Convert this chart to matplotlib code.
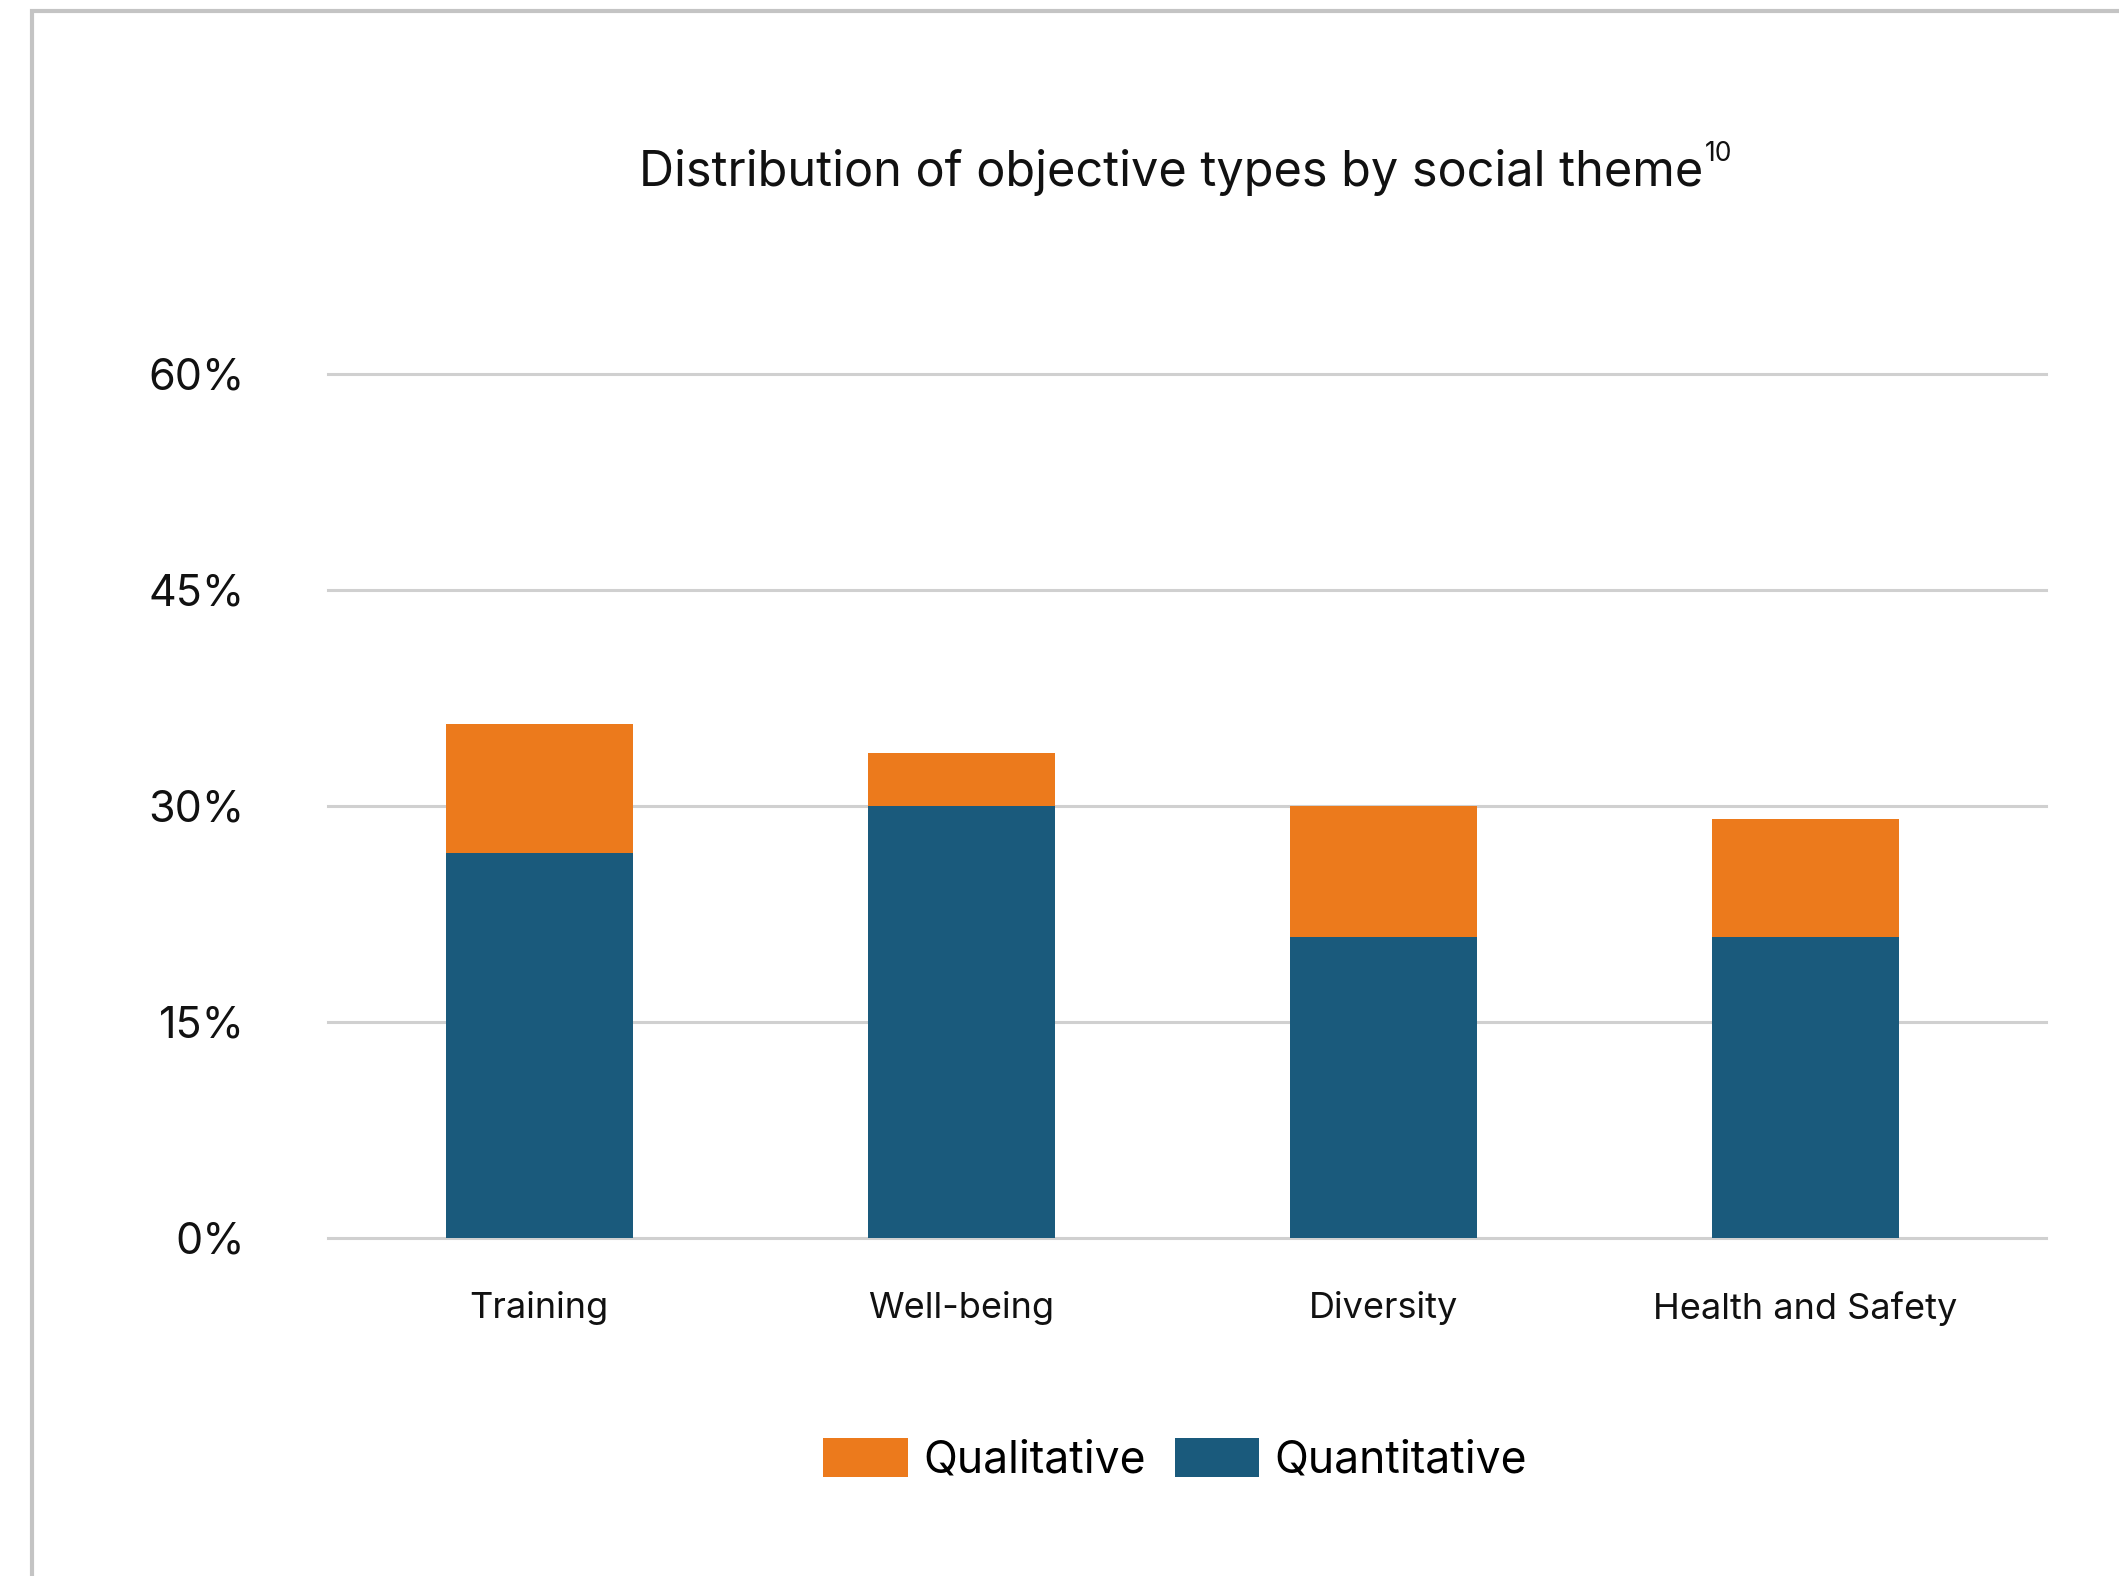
import matplotlib
matplotlib.use('Agg')
import matplotlib.pyplot as plt
from matplotlib.patches import Patch, Rectangle

# Share of objectives per social theme, split by type (%)
themes = ['Training', 'Well-being', 'Diversity', 'Health and Safety']
quantitative = [26.7, 30.0, 20.9, 20.9]
qualitative = [9.0, 3.7, 9.1, 8.2]
y_ticks = [0, 15, 30, 45, 60]
y_tick_labels = ['0%', '15%', '30%', '45%', '60%']

orange = '#EC7A1C'
blue = '#1A5A7C'
grid_grey = '#D0D0D0'

plt.rcParams['font.family'] = ['Inter', 'DejaVu Sans']

fig = plt.figure(figsize=(21.19, 15.76), dpi=100)
fig.patch.set_facecolor('white')

# light frame along the top and left edges
fig.patches.append(Rectangle((32 / 2119, -0.1), 1.2, 1 - 11 / 1576 + 0.1,
                             transform=fig.transFigure, fill=False,
                             edgecolor='#C4C4C4', linewidth=3))

ax = fig.add_axes([0.1548, 0.2145, 0.8107, 0.5482])
x = range(len(themes))
ax.bar(x, quantitative, width=0.443, color=blue, zorder=3)
ax.bar(x, qualitative, width=0.443, bottom=quantitative, color=orange, zorder=3)

ax.set_xlim(-0.5, 3.57)
ax.set_ylim(0, 60)
ax.set_yticks(y_ticks)
ax.set_yticklabels(y_tick_labels, fontsize=31, color='#111111')
ax.set_xticks(list(x))
ax.set_xticklabels(themes, fontsize=26, color='#111111')
ax.tick_params(axis='y', length=0, pad=60)
ax.tick_params(axis='x', length=0, pad=38)

ax.yaxis.grid(True, color=grid_grey, linewidth=2.2)
for gl in ax.get_ygridlines():
    gl.set_clip_on(False)
ax.set_axisbelow(True)
for s in ax.spines.values():
    s.set_visible(False)

title = fig.text(1171 / 2119, 1 - 173 / 1576,
                 'Distribution of objective types by social theme',
                 ha='center', va='center', fontsize=35, color='#111111')
fig.canvas.draw()
ax.annotate('10', xy=(1, 1), xycoords=title, xytext=(1, 6),
            textcoords='offset points', ha='left', va='top',
            fontsize=19, color='#111111')

handles = [Patch(facecolor=orange, label='Qualitative'),
           Patch(facecolor=blue, label='Quantitative')]
fig.legend(handles=handles, loc='center', bbox_to_anchor=(0.5546, 0.0736),
           ncol=2, frameon=False, fontsize=32, handlelength=1.9,
           handleheight=0.95, handletextpad=0.35, columnspacing=0.65)

plt.savefig('out.png', dpi=100, facecolor='white')
